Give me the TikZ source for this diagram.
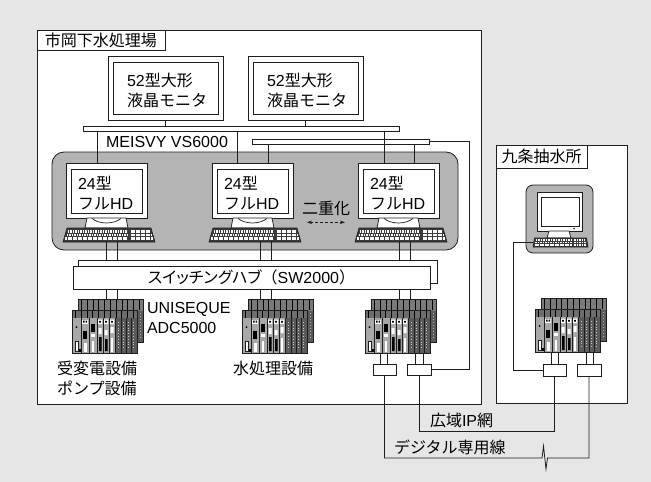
\documentclass[tikz,border=0pt]{standalone}
\usepackage{fontspec}
\setmainfont{Liberation Sans}
\newfontfamily\jp{Noto Sans CJK JP}
\newfontfamily\jpp[RawFeature=+palt]{Noto Sans CJK JP}
\usetikzlibrary{arrows.meta,calc}

\definecolor{bgc}{HTML}{E6E6E6}
\definecolor{lc}{HTML}{1E1E1E}
\definecolor{panel}{HTML}{B4B4B4}
\definecolor{kbdc}{HTML}{3A3A3A}
\definecolor{rackfront}{HTML}{A8A8A8}
\definecolor{rackback}{HTML}{7A7A7A}
\definecolor{rackband}{HTML}{6E6E6E}
\definecolor{rackdark}{HTML}{5A5A5A}

% keyboard: name, left x of top edge, top y, top width, height, slant
\newcommand\kbd[6]{%
  \node[inner sep=0pt, outer sep=0pt, anchor=north west,
        minimum width=#4+2*#6, minimum height=#5] (#1) at (#2-#6,#3) {};
  \fill[kbdc, draw=lc, line width=0.6pt]
    (#2,#3) -- (#2+#4,#3) -- (#2+#4+#6,#3+#5) -- (#2-#6,#3+#5) -- cycle;
  \foreach \kr in {0.24,0.5,0.76} {
    \pgfmathsetmacro\yy{#3+\kr*#5}
    \pgfmathsetmacro\xa{#2+1.5-\kr*#6}
    \pgfmathsetmacro\xb{#2+0.72*#4}
    \pgfmathsetmacro\xc{#2+0.76*#4}
    \pgfmathsetmacro\xd{#2+#4-1.5+\kr*#6}
    \draw[white, line width=0.17*#5, dash pattern=on 1.7pt off 0.8pt]
      (\xa,\yy) -- (\xb,\yy) (\xc,\yy) -- (\xd,\yy);
  }
}

% 24-inch LCD with stand and keyboard: name, left x
\newcommand\widemon[2]{%
  \node[box, minimum width=81, minimum height=55] (#1) at (#2,163) {};
  \node[box, minimum width=71, minimum height=44] (#1scr) at (#2+5,169) {};
  \node[txt, anchor=west, align=left] (#1txt) at (#2+12,193) {24{\jp 型}\\{\jp フル}HD};
  \draw[fill=white, draw=lc, line width=0.7pt]
    (#2+21,218) -- (#2+60,218) -- (#2+62,228) -- (#2+19,228) -- cycle;
  \draw[lc, line width=0.7pt]
    (#2+26,218.4) .. controls (#2+33,224.5) and (#2+48,224.5) .. (#2+55,218.4);
  \kbd{#1kb}{#2+1}{228}{84}{14}{4}
}

% controller rack pair: name, left x and top y of the front unit
\newcommand\plc[3]{%
 \begin{scope}[shift={(#2,#3)}]
  \node[draw=lc, fill=rackback, inner sep=0pt, outer sep=0pt, anchor=north west,
        minimum width=65, minimum height=43, line width=0.6pt] (#1b) at (6,-11) {};
  \foreach \kk in {0,...,10}
    \draw[black, line width=1.1pt] (9.5+\kk*5.8,-10.4) -- (9.5+\kk*5.8,-0.5);
  \fill[rackdark] (65.8,0.5) rectangle (70.5,31.5);
  \draw[gray!60, line width=0.7pt, dash pattern=on 0.8pt off 2.2pt] (68,3) -- (68,30);
  \node[draw=lc, fill=rackfront, inner sep=0pt, outer sep=0pt, anchor=north west,
        minimum width=65, minimum height=43, line width=0.6pt] (#1) at (0,0) {};
  \fill[rackband] (0.4,0.4) rectangle (64.6,8);
  \foreach \kk in {0,...,10}
    \draw[black, line width=1pt] (3.5+\kk*5.8,0.5) -- (3.5+\kk*5.8,7.8);
  \fill[rackdark] (43.3,8.3) rectangle (64.6,42.6);
  \foreach \kk in {9,17,25,31,37,43,49,54,59}
    \draw[lc, line width=0.5pt] (\kk,8) -- (\kk,43);
  \foreach \kk in {46,51.5,56.5,61.5}
    \draw[gray!45, line width=0.8pt, dash pattern=on 0.8pt off 2pt] (\kk,12) -- (\kk,40);
  \fill[white] (10,9.5) rectangle (16,13.5);
  \fill[black] (11,10.5) rectangle (12.5,12.5) (13.5,10.5) rectangle (15,12.5);
  \fill[white] (26,9.5) rectangle (30,14) (32,9.5) rectangle (36,14) (38,9.5) rectangle (42,14);
  \fill[black] (27.2,10.8) rectangle (28.8,12.6) (33.2,10.8) rectangle (34.8,12.6)
               (39.2,10.8) rectangle (40.8,12.6);
  \fill[black] (11,21) rectangle (15,29);
  \fill[black] (18.5,14) rectangle (22.5,22);
  \fill[white] (18.5,24) rectangle (22.5,27);
  \fill[white] (12,33) rectangle (14.5,42);
  \fill[white] (19.5,31) rectangle (22,42);
  \fill[white] (26.5,18) rectangle (29.5,24) (32.5,20) rectangle (35.5,25) (38.5,17) rectangle (41.5,23);
  \fill[black] (27,27) rectangle (29.5,41) (33,29) rectangle (35.5,41);
  \fill[white] (38.5,28) rectangle (41,42);
  \draw[lc, fill=white, line width=0.4pt] (3,31) rectangle (6.5,41);
  \fill[black] (4.5,17) circle (1);
  \fill[black] (7,39) rectangle (8.5,41.5);
  \draw[lc, line width=0.6pt] (0,0) rectangle (65,43);
 \end{scope}}

\begin{document}
\begin{tikzpicture}[x=1pt, y=-1pt, line width=0.8pt,
  box/.style={draw=lc, fill=white, inner sep=0pt, outer sep=0pt, anchor=north west},
  txt/.style={inner sep=0pt, outer sep=0pt, font=\fontsize{16}{20}\selectfont, text=black},
  wire/.style={draw=lc, line width=0.8pt},
  duparrow/.style={draw=lc, line width=0.8pt, dash pattern=on 3pt off 2pt,
    {Stealth[length=5pt,width=3.5pt]}-{Stealth[length=5pt,width=3.5pt]}}]

\fill[bgc] (0,0) rectangle (651,482);
\useasboundingbox (0,0) rectangle (651,482);

% site frames
\node[box, minimum width=444, minimum height=374] (plant) at (37,30) {};
\node[box, txt, minimum width=128, minimum height=20] (plantT) at (37,30) {\jp 市岡下水処理場};
\node[box, minimum width=131, minimum height=258] (pump) at (496,145) {};
\node[box, txt, minimum width=91, minimum height=23] (pumpT) at (496,145) {\jp 九条抽水所};

% 52-inch wall displays
\foreach \n/\x in {L1/108, L2/248} {
  \node[box, minimum width=115, minimum height=64] (\n) at (\x,56) {};
  \node[box, minimum width=105, minimum height=52] (scr\n) at (\x+5,62) {};
  \node[txt, anchor=west, align=left] (txt\n) at (\x+19,90) {52{\jp 型大形}\\{\jp 液晶モニタ}};
}

% operator console panel
\node[draw=lc, fill=panel, rounded corners=12, inner sep=0pt, outer sep=0pt,
      anchor=north west, minimum width=406, minimum height=98] (ops) at (52,152) {};

% information buses
\node[box, minimum width=316, minimum height=5] (busA) at (83,126) {};
\node[box, minimum width=177, minimum height=5] (busB) at (252,139) {};
\node[txt] (meisvy) at (167,141.5) {MEISVY VS6000};

\draw[wire] (L1.south) -- (L1.south |- busA.north);
\draw[wire] (L2.south) -- (L2.south |- busA.north);

% operator stations
\widemon{H1}{66}
\widemon{H2}{212}
\widemon{H3}{358}

\coordinate (a1) at (97,0);
\coordinate (a2) at (237,0);
\coordinate (a3) at (384,0);
\coordinate (b2) at (268,0);
\coordinate (b3) at (414,0);
\draw[wire] (busA.south -| a1) -- (H1.north -| a1);
\draw[wire] (busA.south -| a2) -- (H2.north -| a2);
\draw[wire] (busA.south -| a3) -- (H3.north -| a3);
\draw[wire] (busB.south -| b2) -- (H2.north -| b2);
\draw[wire] (busB.south -| b3) -- (H3.north -| b3);

\node[txt] (dup) at (326,208) {\jp 二重化};
\draw[duparrow] ($(dup.south)+(-19,7)$) -- ($(dup.south)+(19,7)$);

% controllers
\plc{R1}{72}{310}
\plc{R2}{242}{310}
\plc{R3}{365}{310}
\plc{R4}{535}{309}

% station-to-controller links (behind the hub)
\foreach \xx/\kb/\rk in {106/H1kb/R1b, 117/H1kb/R1b, 260/H2kb/R2b, 271/H2kb/R2b,
                          399/H3kb/R3b, 410/H3kb/R3b} {
  \coordinate (tmp) at (\xx,0);
  \draw[wire] (\kb.south -| tmp) -- (\rk.north -| tmp);
}

% switching hub
\node[box, minimum width=359, minimum height=23] (hubB) at (78,260) {};
\node[box, txt, minimum width=357, minimum height=23] (hub) at (73,266)
  {{\jpp スイッチングハブ}{\jp （}SW2000{\jp ）}};

\node[txt, anchor=west, align=left] (uni) at (147,318) {UNISEQUE\\ADC5000};
\node[txt, anchor=west, align=left] (lbl1) at (57,378.5) {{\jp 受変電設備}\\{\jp ポンプ設備}};
\node[txt, anchor=west] (lbl2) at (233,368) {\jp 水処理設備};

% remote pumping station terminal
\node[draw=lc, fill=panel, rounded corners=7, inner sep=0pt, outer sep=0pt,
      anchor=north west, minimum width=67, minimum height=68] (pcbg) at (526,185) {};
\node[box, minimum width=45, minimum height=39] (crt) at (537,192) {};
\node[box, minimum width=38, minimum height=29] (crtscr) at (541,197) {};
\fill[lc] (574,228.6) circle (0.9);
\draw[fill=white, draw=lc, line width=0.7pt] (549,231) -- (569,231) -- (571,238) -- (547,238) -- cycle;
\kbd{kb4}{534.5}{238}{52}{9}{1.5}

% network terminal units
\node[box, minimum width=23, minimum height=11] (cA) at (373,364) {};
\node[box, minimum width=24, minimum height=11] (cB) at (407,364) {};
\node[box, minimum width=23, minimum height=12] (cC) at (543,364) {};
\node[box, minimum width=24, minimum height=12] (cD) at (577,364) {};

\foreach \xx/\bx/\rk in {380/cA/R3, 387/cA/R3, 415/cB/R3, 423/cB/R3,
                         551/cC/R4, 558/cC/R4, 586/cD/R4, 593/cD/R4} {
  \coordinate (tmp) at (\xx,0);
  \draw[wire] (\rk.south -| tmp) -- (\bx.north -| tmp);
}

% bus B to the wide-area terminal
\coordinate (turn) at (469,0);
\draw[wire] (busB.east) -- (busB.east -| turn) -- (turn |- cB.east) -- (cB.east);

% remote terminal to its network unit
\coordinate (tap) at (513,0);
\draw[wire] (kb4.west) -- (kb4.west -| tap) -- (tap |- cC.west) -- (cC.west);

% wide-area IP network
\coordinate (ipy) at (0,431);
\draw[wire] (cB.south) -- (cB.south |- ipy) -- (cC.south |- ipy) -- (cC.south);
\node[txt, anchor=west] (ipnet) at (430,420) {{\jp 広域}IP{\jp 網}};

% dedicated digital line
\coordinate (dly) at (0,458);
\coordinate (zz) at (542,458);
\draw[wire] (cA.south) -- (cA.south |- dly) -- (zz) -- ++(1.5,-12) -- ++(2.5,23) -- ++(1.5,-11)
  -- (cD.south |- dly) -- (cD.south);
\node[txt, anchor=west] (dline) at (394,447) {\jp デジタル専用線};

\end{tikzpicture}
\end{document}
